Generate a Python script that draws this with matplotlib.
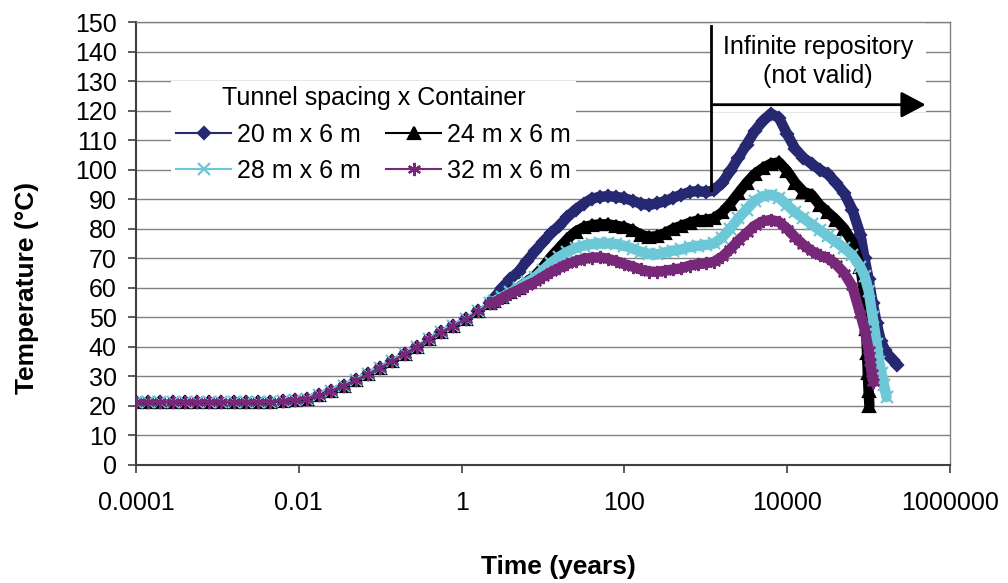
import numpy as np
import matplotlib
matplotlib.use("Agg")
import matplotlib.pyplot as plt
from matplotlib.patches import Rectangle

plt.rcParams['font.family'] = ['Liberation Sans', 'DejaVu Sans']

# ---------------- data (log10 of time in years, temperature in °C) ----------------
log_time_shared = [-4.00, -3.85, -3.70, -3.55, -3.40, -3.25, -3.10, -2.95, -2.80, -2.65,
                   -2.50, -2.35, -2.20, -2.05, -1.90, -1.75, -1.60, -1.45, -1.30, -1.15,
                   -1.00, -0.85, -0.70, -0.55, -0.40, -0.25, -0.10, 0.05, 0.20, 0.35]
temp_shared = [21.3, 21.3, 21.3, 21.3, 21.3, 21.3, 21.3, 21.3, 21.3, 21.3,
               21.3, 21.5, 21.8, 22.1, 22.5, 23.6, 25.0, 26.9, 28.7, 30.7,
               33.0, 35.2, 37.7, 40.1, 42.7, 45.0, 47.2, 49.4, 52.0, 54.7]

log_time_main = [0.4, 0.5, 0.6, 0.7, 0.8, 0.9, 1.0, 1.1, 1.2, 1.3,
                 1.4, 1.5, 1.6, 1.7, 1.8, 1.9, 2.0, 2.1, 2.2, 2.3,
                 2.4, 2.5, 2.6, 2.7, 2.8, 2.9, 3.0, 3.1, 3.2, 3.3,
                 3.4, 3.5, 3.6, 3.7, 3.8, 3.9, 4.0, 4.1, 4.2, 4.3,
                 4.4, 4.5, 4.6, 4.7, 4.8, 4.9]

temp_20 = [56.5, 60.0, 63.0, 65.5, 69.0, 72.3, 75.5, 78.5, 81.0, 84.0,
           86.5, 88.5, 90.2, 90.8, 91.0, 90.8, 90.3, 89.5, 88.5, 88.0,
           88.6, 89.3, 90.5, 91.5, 92.4, 92.8, 92.4, 93.0, 95.5, 99.5,
           104.0, 108.5, 113.0, 116.5, 119.0, 117.5, 112.0, 107.0, 104.0, 102.0,
           100.0, 98.5, 95.5, 92.0, 86.5, 78.0]
temp_24 = [55.5, 57.0, 58.5, 60.0, 62.0, 64.0, 67.0, 70.5, 73.5, 76.5,
           79.0, 80.5, 81.2, 81.5, 81.5, 81.0, 80.5, 79.5, 78.0, 77.2,
           77.5, 78.5, 80.0, 81.0, 82.0, 82.8, 83.0, 83.5, 85.5, 88.5,
           92.0, 95.5, 98.5, 100.5, 102.0, 102.5, 99.5, 95.5, 92.5, 91.5,
           88.0, 85.5, 83.0, 80.0, 75.5, 67.0]
temp_28 = [55.5, 57.0, 58.5, 60.0, 61.8, 63.5, 66.0, 68.5, 70.5, 72.2,
           73.5, 74.3, 74.8, 75.0, 75.0, 74.8, 74.2, 73.3, 72.2, 71.5,
           71.3, 72.0, 72.6, 73.0, 73.8, 74.2, 74.5, 75.0, 77.0, 80.0,
           83.5, 86.5, 89.5, 91.0, 91.5, 90.5, 88.0, 85.5, 83.5, 81.5,
           79.5, 77.5, 75.5, 73.5, 71.0, 67.0]
temp_32 = [55.0, 56.5, 58.0, 59.3, 60.7, 62.0, 63.7, 65.3, 66.7, 68.0,
           69.0, 69.8, 70.2, 70.3, 69.8, 69.0, 68.0, 67.2, 66.2, 65.5,
           65.4, 65.8, 66.2, 66.6, 67.5, 68.0, 68.3, 68.8, 70.5, 73.0,
           76.0, 78.5, 81.0, 82.5, 83.0, 82.3, 80.0, 77.0, 74.5, 72.5,
           71.0, 70.0, 68.0, 65.0, 60.5, 51.0]

log_time_tail_20 = [4.95, 5.00, 5.05, 5.10, 5.15, 5.20, 5.25, 5.30, 5.35]
temp_tail_20 = [70.0, 63.0, 55.0, 48.0, 42.0, 39.0, 37.0, 35.5, 34.0]
log_time_tail_24 = [4.95, 4.97, 4.98, 4.99, 5.00, 5.01]
temp_tail_24 = [57.0, 46.0, 38.0, 31.0, 25.0, 20.0]
log_time_tail_28 = [4.95, 5.00, 5.05, 5.10, 5.13, 5.16, 5.19, 5.22]
temp_tail_28 = [64.0, 59.0, 50.0, 41.0, 35.0, 31.0, 27.0, 23.0]
log_time_tail_32 = [4.95, 5.00, 5.02, 5.04, 5.06]
temp_tail_32 = [46.0, 39.0, 35.0, 31.0, 28.0]

labels = ['20 m x 6 m', '24 m x 6 m', '28 m x 6 m', '32 m x 6 m']
colors = ['#262872', '#000000', '#6CC8D6', '#782878']
markers = ['D', '^', 'x', (6, 2, 0)]
msizes = [6.5, 8, 8.5, 9.5]

x_ticks = [1e-4, 1e-2, 1, 100, 1e4, 1e6]
x_tick_labels = ['0.0001', '0.01', '1', '100', '10000', '1000000']
y_ticks = list(range(0, 151, 10))

# ---------------- figure ----------------
fig = plt.figure(figsize=(10.08, 5.83), dpi=100)
ax = fig.add_axes([136 / 1008, 1 - 465 / 583, (950 - 136) / 1008, (465 - 22) / 583])

series_main = [temp_20, temp_24, temp_28, temp_32]
tails = [(log_time_tail_20, temp_tail_20), (log_time_tail_24, temp_tail_24),
         (log_time_tail_28, temp_tail_28), (log_time_tail_32, temp_tail_32)]

handles = []
for i in range(4):
    lt = log_time_shared + log_time_main + tails[i][0]
    tt = temp_shared + series_main[i] + tails[i][1]
    t = 10.0 ** np.array(lt)
    h, = ax.plot(t, tt, color=colors[i], lw=1.5, marker=markers[i], ms=msizes[i],
                 mec=colors[i], mfc=colors[i], mew=1.6, label=labels[i], zorder=3 + i)
    handles.append(h)
    # dense part of the record drawn as a thick band
    lt_d = log_time_shared[-1:] + log_time_main + tails[i][0]
    tt_d = temp_shared[-1:] + series_main[i] + tails[i][1]
    ax.plot(10.0 ** np.array(lt_d), tt_d, color=colors[i], lw=7.5,
            solid_joinstyle='round', solid_capstyle='round', zorder=3 + i)

ax.set_xscale('log')
ax.set_xlim(1e-4, 1e6)
ax.set_ylim(0, 150)
ax.set_xticks(x_ticks)
ax.set_xticklabels(x_tick_labels)
ax.xaxis.set_minor_locator(matplotlib.ticker.NullLocator())
ax.set_yticks(y_ticks)
ax.tick_params(axis='both', labelsize=18, direction='out', length=6, width=1.2, color='#404040')
ax.tick_params(axis='x', pad=13)
ax.tick_params(axis='y', pad=8)

ax.yaxis.grid(True, color='#808080', lw=1.0)
ax.set_axisbelow(True)
for s in ['left', 'bottom']:
    ax.spines[s].set_color('#404040')
    ax.spines[s].set_linewidth(1.5)
for s in ['right', 'top']:
    ax.spines[s].set_color('#808080')
    ax.spines[s].set_linewidth(1.0)

ax.set_xlabel('Time (years)', fontsize=19, fontweight='bold')
ax.set_ylabel('Temperature (°C)', fontsize=19, fontweight='bold')
ax.xaxis.set_label_coords((558 - 136) / 814, (465 - 567) / 443)
ax.xaxis.label.set_va('center')
ax.yaxis.set_label_coords((27 - 136) / 814, (465 - 288) / 443)
ax.yaxis.label.set_va('center')

# annotation: infinite repository
x_line = 10 ** 3.07
x_arrow_end = 10 ** 5.70
ax.add_patch(Rectangle((x_line, 119.5), x_arrow_end - x_line, 30.5, facecolor='white',
                       edgecolor='none', zorder=1))
ax.plot([x_line, x_line], [93, 148.5], color='black', lw=2, zorder=8)
ax.annotate('', xy=(x_arrow_end, 122), xytext=(x_line, 122),
            arrowprops=dict(arrowstyle='-|>,head_length=0.75,head_width=0.4', color='black',
                            lw=2, shrinkA=0, shrinkB=0, mutation_scale=20), zorder=8)
ax.text(10 ** 4.38, 136.6, 'Infinite repository\n(not valid)', ha='center', va='center',
        fontsize=18, linespacing=1.3, zorder=9)

order = [0, 2, 1, 3]
leg = ax.legend([handles[k] for k in order], [labels[k] for k in order],
                ncol=2, title='Tunnel spacing x Container', loc='upper left',
                bbox_to_anchor=(171 / 1008, 1 - 81 / 583), bbox_transform=fig.transFigure,
                fontsize=18, title_fontsize=18, frameon=True, facecolor='white',
                edgecolor='none', framealpha=1, fancybox=False, numpoints=1,
                handlelength=2.2, handletextpad=0.25, columnspacing=1.0,
                labelspacing=0.5, borderpad=0.2, borderaxespad=0)
leg.set_zorder(10)

fig.savefig('out.png', dpi=100)
